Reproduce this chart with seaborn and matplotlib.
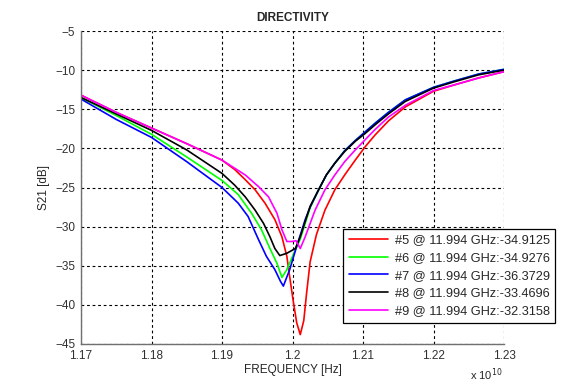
import pandas as pd
import seaborn as sns
import matplotlib
matplotlib.use("Agg")
import matplotlib.pyplot as plt

# frequency in units of 1e10 Hz, S21 in dB
freq5 = [1.17, 1.175, 1.18, 1.185, 1.19, 1.1918, 1.1933, 1.1947, 1.1961, 1.1975, 1.1985, 1.1992,
         1.1996, 1.2001, 1.2006, 1.2011, 1.2016, 1.202, 1.2025, 1.2034, 1.2046, 1.206, 1.2074,
         1.2089, 1.2103, 1.2117, 1.2136, 1.216, 1.22, 1.2229, 1.2264, 1.23]
s21_5 = [-13.2, -15.4, -17.4, -19.4, -21.5, -22.7, -24.0, -25.3, -27.0, -29.1, -31.3, -33.8,
         -36.4, -39.5, -42.3, -43.8, -42.0, -38.5, -34.5, -31.0, -27.9, -25.3, -23.4,
         -21.5, -19.8, -18.3, -16.5, -14.7, -12.7, -11.9, -11.0, -10.2]

freq6 = [1.17, 1.175, 1.18, 1.185, 1.19, 1.1923, 1.1942, 1.1956, 1.1968, 1.1978, 1.1985, 1.1992,
         1.2001, 1.2011, 1.2025, 1.2037, 1.2048, 1.206, 1.2074, 1.2089, 1.2103, 1.2117, 1.2136,
         1.216, 1.22, 1.2229, 1.2264, 1.23]
s21_6 = [-13.5, -15.8, -18.2, -21.1, -24.1, -25.9, -28.3, -30.4, -32.8, -34.7, -36.5, -35.5,
         -33.6, -31.6, -27.6, -25.3, -23.4, -21.9, -20.3, -19.0, -17.9, -16.8, -15.4,
         -13.8, -12.2, -11.4, -10.5, -9.9]

freq7 = [1.17, 1.175, 1.18, 1.185, 1.19, 1.1923, 1.1937, 1.1952, 1.1963, 1.1975, 1.1983, 1.1987,
         1.1996, 1.2006, 1.2018, 1.2025, 1.2037, 1.2048, 1.206, 1.2074, 1.2089, 1.2103, 1.2117,
         1.2136, 1.216, 1.22, 1.2229, 1.2264, 1.23]
s21_7 = [-13.7, -16.3, -18.6, -21.7, -25.0, -27.0, -28.7, -31.7, -33.8, -35.5, -37.0, -37.6,
         -35.5, -32.5, -29.1, -27.5, -25.3, -23.4, -21.9, -20.3, -19.0, -17.9, -16.8,
         -15.4, -13.8, -12.2, -11.4, -10.5, -9.9]

freq8 = [1.17, 1.175, 1.18, 1.185, 1.19, 1.1918, 1.1933, 1.1947, 1.1959, 1.1968, 1.1975, 1.1982,
         1.1992, 1.2004, 1.2011, 1.2025, 1.2037, 1.2048, 1.206, 1.2074, 1.2089, 1.2103, 1.2117,
         1.2136, 1.216, 1.22, 1.2229, 1.2264, 1.23]
s21_8 = [-13.5, -15.6, -17.7, -20.2, -23.2, -24.7, -26.2, -27.9, -29.6, -31.3, -32.8, -33.7,
         -33.4, -32.8, -31.3, -27.4, -25.3, -23.4, -21.9, -20.4, -19.1, -18.1, -17.0,
         -15.6, -14.0, -12.3, -11.5, -10.6, -10.0]

freq9 = [1.17, 1.175, 1.18, 1.185, 1.19, 1.1933, 1.1952, 1.1966, 1.1978, 1.1985, 1.1992, 1.1999,
         1.2005, 1.2011, 1.2018, 1.2032, 1.2046, 1.206, 1.2074, 1.2089, 1.2103, 1.2117, 1.2136,
         1.216, 1.22, 1.2229, 1.2264, 1.23]
s21_9 = [-13.2, -15.4, -17.4, -19.4, -21.5, -23.4, -24.9, -26.2, -28.3, -30.4, -31.9, -31.9,
         -31.8, -32.8, -31.3, -27.9, -25.3, -23.4, -21.7, -20.2, -18.9, -17.6, -16.0,
         -14.5, -12.6, -11.9, -11.0, -10.2]

etiquetas = ["#5 @ 11.994 GHz:-34.9125", "#6 @ 11.994 GHz:-34.9276", "#7 @ 11.994 GHz:-36.3729",
             "#8 @ 11.994 GHz:-33.4696", "#9 @ 11.994 GHz:-32.3158"]
colores = ["#ff0000", "#00ff00", "#0000ff", "#000000", "#ff00ff"]

series = [(freq5, s21_5), (freq6, s21_6), (freq7, s21_7), (freq8, s21_8), (freq9, s21_9)]
filas = []
for etiqueta, (fx, fy) in zip(etiquetas, series):
    for a, b in zip(fx, fy):
        filas.append((etiqueta, a, b))
df = pd.DataFrame(filas, columns=("traza", "freq", "s21"))

sns.set_style("white")
plt.rcParams["font.family"] = ["Liberation Sans", "DejaVu Sans"]

fig = plt.figure(figsize=(5.64, 3.84), dpi=100)
ax = fig.add_axes([81 / 564, 1 - 344 / 384, 423 / 564, 313 / 384])

sns.lineplot(df, x="freq", y="s21", hue="traza", palette=dict(zip(etiquetas, colores)),
             sort=False, estimator=None, linewidth=1.2, ax=ax)

ax.set_xlim(1.17, 1.23)
ax.set_ylim(-45, -5)
ax.set_xticks([1.17, 1.18, 1.19, 1.2, 1.21, 1.22, 1.23])
ax.set_xticklabels(["1.17", "1.18", "1.19", "1.2", "1.21", "1.22", "1.23"])
ax.set_yticks(range(-45, 0, 5))
ax.grid(True, color="black", linestyle=(0, (2.5, 2.5)), linewidth=0.8)
for lado in ("top", "right"):
    ax.spines[lado].set_visible(False)
for lado in ("left", "bottom"):
    ax.spines[lado].set_color("#707070")
    ax.spines[lado].set_linewidth(1.0)
ax.tick_params(labelsize=8.5, colors="#303030", length=0, pad=4)

ax.set_title("DIRECTIVITY", fontsize=8.5, fontweight="bold", pad=7)
ax.set_xlabel("FREQUENCY [Hz]", fontsize=8.5, labelpad=2)
ax.set_ylabel("S21 [dB]", fontsize=8.5, labelpad=4)
fig.text(470 / 564, 1 - 375 / 384, r"x 10$^{10}$", fontsize=8, va="center", ha="left")

leg = ax.legend(loc="lower left", bbox_to_anchor=(0.619, 0.067), borderaxespad=0,
                fontsize=9.2, frameon=True, fancybox=False, framealpha=1, edgecolor="black",
                handlelength=3.1, labelspacing=0.45, borderpad=0.45, handletextpad=0.5)
leg.get_frame().set_linewidth(0.9)
for linea in leg.get_lines():
    linea.set_linewidth(1.2)

fig.savefig("out.png", dpi=100)
